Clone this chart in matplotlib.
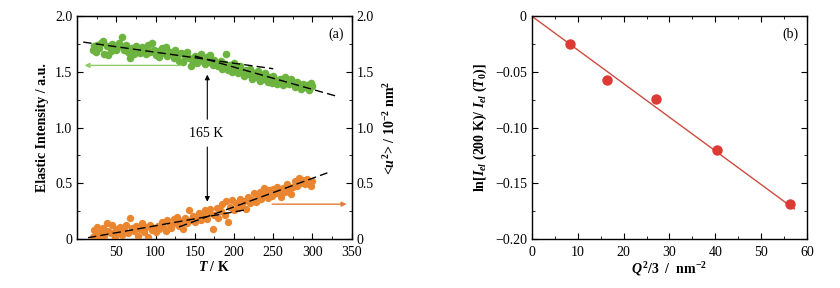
import matplotlib
matplotlib.use('Agg')
import matplotlib.pyplot as plt
from matplotlib.ticker import MultipleLocator

# 字体：Times 风格
plt.rcParams['font.family'] = ['Liberation Serif', 'DejaVu Serif']
plt.rcParams['mathtext.fontset'] = 'custom'
plt.rcParams['mathtext.rm'] = 'Liberation Serif:bold'
plt.rcParams['mathtext.it'] = 'Liberation Serif:italic:bold'
plt.rcParams['mathtext.bf'] = 'Liberation Serif:bold'
plt.rcParams['axes.unicode_minus'] = True

# ---- (a) 数据 ----
temps = [20, 22, 24, 26, 28, 30, 33, 35, 38, 40, 43, 45, 48, 50, 53, 55, 57, 60, 63, 65,
         68, 70, 73, 75, 78, 80, 83, 85, 88, 90, 93, 95, 98, 100, 103, 105, 108, 110, 113, 115,
         118, 120, 123, 125, 128, 130, 133, 135, 138, 140, 143, 145, 148, 150, 153, 155, 158, 160, 163, 165,
         168, 170, 173, 175, 178, 180, 183, 185, 188, 190, 193, 195, 198, 200, 203, 205, 208, 210, 213, 215,
         218, 220, 223, 225, 228, 230, 233, 235, 238, 240, 243, 245, 248, 250, 253, 255, 258, 260, 263, 265,
         268, 270, 273, 275, 278, 280, 283, 285, 288, 290, 293, 295, 298, 300]

elastic = [1.70, 1.73, 1.68, 1.74, 1.71, 1.76, 1.78, 1.66, 1.73, 1.65, 1.69, 1.75, 1.72, 1.70, 1.76, 1.73, 1.81, 1.70, 1.74, 1.68,
           1.62, 1.71, 1.66, 1.73, 1.69, 1.67, 1.72, 1.70, 1.66, 1.74, 1.68, 1.76, 1.70, 1.65, 1.69, 1.63, 1.71, 1.67, 1.72, 1.64,
           1.68, 1.66, 1.62, 1.70, 1.65, 1.60, 1.67, 1.59, 1.64, 1.68, 1.62, 1.55, 1.60, 1.64, 1.58, 1.62, 1.66, 1.60, 1.57, 1.63,
           1.59, 1.65, 1.56, 1.61, 1.58, 1.55, 1.60, 1.53, 1.57, 1.66, 1.52, 1.56, 1.50, 1.58, 1.53, 1.49, 1.55, 1.51, 1.46, 1.52,
           1.48, 1.53, 1.44, 1.49, 1.45, 1.51, 1.42, 1.47, 1.44, 1.49, 1.41, 1.45, 1.40, 1.46, 1.43, 1.39, 1.44, 1.41, 1.38, 1.45,
           1.42, 1.39, 1.44, 1.40, 1.36, 1.41, 1.37, 1.35, 1.39, 1.36, 1.38, 1.34, 1.40, 1.37]

msd = [0.02, 0.08, 0.04, 0.11, 0.00, 0.06, 0.10, 0.03, 0.14, 0.07, 0.05, 0.13, 0.02, 0.09, 0.06, 0.11, 0.04, 0.08, 0.13, 0.05,
       0.19, 0.10, 0.07, 0.12, 0.03, 0.09, 0.14, 0.06, 0.11, 0.02, 0.13, 0.08, 0.10, 0.06, 0.12, 0.09, 0.15, 0.11, 0.07, 0.17,
       0.13, 0.10, 0.18, 0.14, 0.20, 0.12, 0.16, 0.09, 0.19, 0.14, 0.26, 0.17, 0.21, 0.15, 0.19, 0.23, 0.17, 0.21, 0.26, 0.18,
       0.23, 0.27, 0.09, 0.22, 0.28, 0.19, 0.25, 0.31, 0.22, 0.34, 0.15, 0.29, 0.35, 0.26, 0.32, 0.28, 0.36, 0.30, 0.34, 0.27,
       0.38, 0.32, 0.35, 0.41, 0.33, 0.39, 0.42, 0.36, 0.46, 0.40, 0.37, 0.44, 0.39, 0.45, 0.41, 0.47, 0.43, 0.38, 0.46, 0.42,
       0.49, 0.44, 0.40, 0.47, 0.52, 0.48, 0.55, 0.50, 0.53, 0.49, 0.54, 0.51, 0.48, 0.52]

# 拟合虚线端点 (T, 值)
green_fit_low_t = [8, 250]
green_fit_low_v = [1.767, 1.528]
green_fit_high_t = [150, 330]
green_fit_high_v = [1.642, 1.283]
orange_fit_low_t = [14, 218]
orange_fit_low_v = [0.012, 0.266]
orange_fit_high_t = [130, 319]
orange_fit_high_v = [0.109, 0.594]

# ---- (b) 数据 ----
q2_3 = [8.3, 16.3, 27.0, 40.3, 56.3]
ln_ratio = [-0.025, -0.057, -0.074, -0.120, -0.169]
fit_q = [0, 57.2]
fit_ln = [0.0, -0.173]

green = '#6cb43f'
orange = '#ea8630'
red = '#dd3a33'

fig = plt.figure(figsize=(8.4, 2.88), dpi=100)
ax1 = fig.add_axes([0.0917, 0.170, 0.327, 0.774])
ax2 = fig.add_axes([0.633, 0.170, 0.328, 0.774])


def style_axis(ax):
    ax.tick_params(which='both', direction='in', top=True, right=True, labelsize=10)
    ax.tick_params(which='major', length=4)
    ax.tick_params(which='minor', length=2)
    ax.tick_params(axis='x', pad=5)
    for s in ax.spines.values():
        s.set_linewidth(1.0)


# ---- 图 (a) ----
ax1.scatter(temps, elastic, s=30, color=green, zorder=3, linewidths=0)
ax1.scatter(temps, msd, s=28, color=orange, zorder=3, linewidths=0)
for tt, vv in [(green_fit_low_t, green_fit_low_v), (green_fit_high_t, green_fit_high_v),
               (orange_fit_low_t, orange_fit_low_v), (orange_fit_high_t, orange_fit_high_v)]:
    ax1.plot(tt, vv, color='k', ls=(0, (6, 3)), lw=1.0, zorder=4)

ax1.set_xlim(0, 350)
ax1.set_ylim(0, 2.0)
ax1.set_xticks([50, 100, 150, 200, 250, 300, 350])
ax1.set_yticks([0, 0.5, 1.0, 1.5, 2.0])
ax1.set_yticklabels(['0', '0.5', '1.0', '1.5', '2.0'])
ax1.xaxis.set_minor_locator(MultipleLocator(25))
ax1.yaxis.set_minor_locator(MultipleLocator(0.25))
style_axis(ax1)
ax1.tick_params(right=False, which='both')

ax1r = ax1.twinx()
ax1r.set_ylim(0, 2.0)
ax1r.set_yticks([0, 0.5, 1.0, 1.5, 2.0])
ax1r.set_yticklabels(['0', '0.5', '1.0', '1.5', '2.0'])
ax1r.yaxis.set_minor_locator(MultipleLocator(0.25))
ax1r.tick_params(which='both', direction='in', labelsize=10)
ax1r.tick_params(which='major', length=4)
ax1r.tick_params(which='minor', length=2)

ax1.set_xlabel(r'$T$ / K', fontsize=10, fontweight='bold', labelpad=1)
ax1.set_ylabel('Elastic Intensity / a.u.', fontsize=10, fontweight='bold', labelpad=4)
ax1r.set_ylabel(r'<$u^2$> / 10$^{-2}$ nm$^2$', fontsize=10, fontweight='bold', rotation=90, labelpad=6)

# 165 K 标注
ax1.text(165, 0.95, '165 K', ha='center', va='center', fontsize=10, zorder=5)
ax1.annotate('', xy=(166, 1.50), xytext=(166, 1.05),
             arrowprops=dict(arrowstyle='-|>', color='k', lw=0.8, mutation_scale=7))
ax1.annotate('', xy=(166, 0.31), xytext=(166, 0.85),
             arrowprops=dict(arrowstyle='-|>', color='k', lw=0.8, mutation_scale=7))
# 轴指示箭头
ax1.annotate('', xy=(6, 1.558), xytext=(137, 1.558),
             arrowprops=dict(arrowstyle='-|>', color='#8fcc6a', lw=1.0, mutation_scale=7))
ax1.annotate('', xy=(347, 0.313), xytext=(245, 0.313),
             arrowprops=dict(arrowstyle='-|>', color='#e57b3a', lw=1.0, mutation_scale=7))
ax1.text(0.97, 0.95, '(a)', transform=ax1.transAxes, ha='right', va='top', fontsize=10)

# ---- 图 (b) ----
ax2.plot(fit_q, fit_ln, color='#d04a40', lw=1.0, zorder=2)
ax2.plot(q2_3, ln_ratio, 'o', color=red, ms=6.5, mec=red, zorder=3)
ax2.set_xlim(0, 60)
ax2.set_ylim(-0.20, 0)
ax2.set_xticks([0, 10, 20, 30, 40, 50, 60])
ax2.set_yticks([0, -0.05, -0.10, -0.15, -0.20])
ax2.set_yticklabels(['0', '\u22120.05', '\u22120.10', '\u22120.15', '\u22120.20'])
ax2.xaxis.set_minor_locator(MultipleLocator(5))
ax2.yaxis.set_minor_locator(MultipleLocator(0.025))
style_axis(ax2)
ax2.set_xlabel(r'$Q^2$/3  /  nm$^{-2}$', fontsize=10, fontweight='bold', labelpad=1)
ax2.set_ylabel(r'ln[$I_{el}$ (200 K)/ $I_{el}$ ($T_0$)]', fontsize=10, fontweight='bold', labelpad=4)
ax2.text(0.97, 0.95, '(b)', transform=ax2.transAxes, ha='right', va='top', fontsize=10)

plt.savefig('out.png', dpi=100)
